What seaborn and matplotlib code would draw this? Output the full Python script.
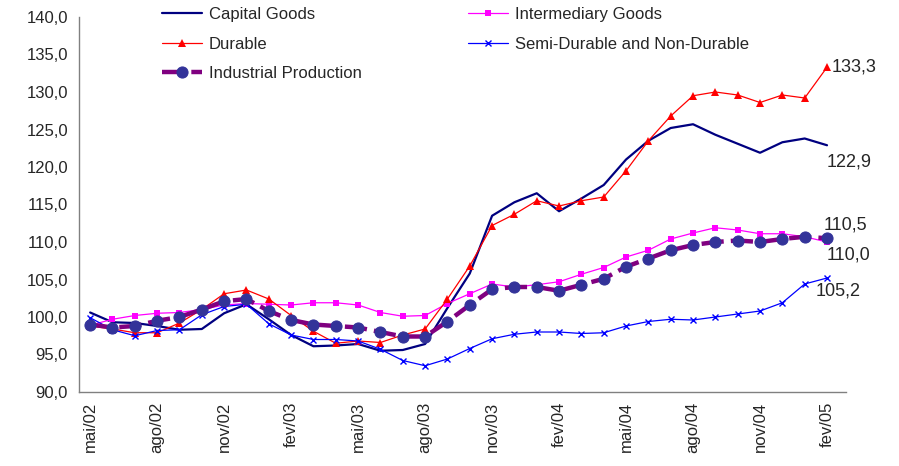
import matplotlib
matplotlib.use("Agg")
import matplotlib.pyplot as plt
import seaborn as sns
import numpy as np
import pandas as pd

months = ["mai/02", "jun/02", "jul/02", "ago/02", "set/02", "out/02", "nov/02", "dez/02",
          "jan/03", "fev/03", "mar/03", "abr/03", "mai/03", "jun/03", "jul/03", "ago/03",
          "set/03", "out/03", "nov/03", "dez/03", "jan/04", "fev/04", "mar/04", "abr/04",
          "mai/04", "jun/04", "jul/04", "ago/04", "set/04", "out/04", "nov/04", "dez/04",
          "jan/05", "fev/05"]

capital = [100.6, 99.3, 99.2, 98.8, 98.3, 98.4, 100.5, 101.7, 99.7, 97.6, 96.1, 96.2,
           96.4, 95.5, 95.6, 96.4, 101.2, 105.8, 113.5, 115.3, 116.5, 114.1, 115.8, 117.6,
           121.0, 123.5, 125.2, 125.7, 124.3, 123.1, 121.9, 123.3, 123.8, 122.9]
intermediary = [98.9, 99.7, 100.2, 100.5, 100.6, 101.0, 101.6, 101.8, 101.7, 101.6, 101.9, 101.9,
                101.6, 100.6, 100.1, 100.2, 101.8, 103.1, 104.4, 104.0, 104.3, 104.7, 105.7, 106.6,
                108.0, 108.9, 110.4, 111.2, 111.9, 111.6, 111.1, 111.1, 110.7, 110.0]
durable = [98.8, 98.4, 97.9, 97.9, 99.2, 101.0, 103.1, 103.6, 102.4, 100.2, 98.1, 96.5,
           96.8, 96.6, 97.6, 98.4, 102.4, 106.8, 112.2, 113.7, 115.5, 114.8, 115.5, 116.0,
           119.5, 123.5, 126.8, 129.5, 130.0, 129.6, 128.6, 129.6, 129.2, 133.3]
semi = [99.9, 98.3, 97.5, 98.2, 98.3, 100.3, 101.4, 101.7, 99.1, 97.6, 97.0, 97.0,
        96.8, 95.7, 94.2, 93.5, 94.4, 95.8, 97.1, 97.7, 98.0, 98.0, 97.8, 97.9,
        98.8, 99.4, 99.7, 99.6, 100.0, 100.4, 100.8, 101.9, 104.4, 105.2]
industrial = [99.0, 98.6, 98.8, 99.5, 100.0, 101.0, 102.1, 102.4, 100.8, 99.6, 99.0, 98.8,
              98.6, 98.0, 97.4, 97.4, 99.4, 101.6, 103.7, 104.0, 104.0, 103.5, 104.3, 105.1,
              106.7, 107.8, 108.9, 109.6, 110.0, 110.2, 110.0, 110.4, 110.7, 110.5]

yticks = [90, 95, 100, 105, 110, 115, 120, 125, 130, 135, 140]

df = pd.DataFrame({"pos": np.arange(len(months)), "month": months,
                   "Capital Goods": capital, "Intermediary Goods": intermediary,
                   "Durable": durable, "Semi-Durable and Non-Durable": semi,
                   "Industrial Production": industrial})

sns.set_style("white")
plt.rcParams["font.family"] = ["Liberation Sans", "DejaVu Sans"]

fig = plt.figure(figsize=(8.99, 4.66), dpi=100)
ax = fig.add_axes([79/899, 1-392/466, (846-79)/899, (392-17)/466])

sns.lineplot(data=df, x="pos", y="Capital Goods", ax=ax, color="#000080", lw=1.6,
             label="Capital Goods", zorder=3)
sns.lineplot(data=df, x="pos", y="Intermediary Goods", ax=ax, color="#FF00FF", lw=0.9,
             marker="s", markersize=5, markeredgewidth=0, label="Intermediary Goods", zorder=3)
sns.lineplot(data=df, x="pos", y="Durable", ax=ax, color="#FF0000", lw=0.9,
             marker="^", markersize=5.5, markeredgewidth=0, label="Durable", zorder=3)
sns.lineplot(data=df, x="pos", y="Semi-Durable and Non-Durable", ax=ax, color="#0000FF", lw=0.9,
             linestyle="-", marker="x", markersize=5, markeredgewidth=1,
             markeredgecolor="#0000FF", markerfacecolor="#0000FF",
             label="Semi-Durable and Non-Durable", zorder=3)
sns.lineplot(data=df, x="pos", y="Industrial Production", ax=ax, color="#800080", lw=3.2,
             marker="o", markersize=8, markerfacecolor="#333399", markeredgecolor="#333399",
             dashes=(5, 1.6), label="Industrial Production", zorder=4)

n = len(months)
ax.set_xlim(-0.5, 33.85)
ax.set_ylim(90, 140)
ax.set_yticks(yticks)
ax.set_yticklabels([f"{v:.1f}".replace(".", ",") for v in yticks], fontsize=12)
ax.set_xticks(np.arange(0, n, 3))
ax.set_xticklabels(months[::3], rotation=90, fontsize=12)
ax.set_xticks(np.arange(-0.5, n, 3), minor=True)
ax.tick_params(axis="x", which="major", length=0, pad=7)
ax.tick_params(axis="x", which="minor", length=6, width=1, color="#808080", direction="out")
ax.tick_params(axis="y", length=4, width=1, color="#808080", direction="out", pad=4)
ax.set_xlabel("")
ax.set_ylabel("")
for s in ["top", "right"]:
    ax.spines[s].set_visible(False)
for s in ["left", "bottom"]:
    ax.spines[s].set_color("#808080")
    ax.spines[s].set_linewidth(1)
ax.grid(False)

last = n - 1
def lab(v):
    return f"{v:.1f}".replace(".", ",")
ax.annotate(lab(durable[-1]), (last, durable[-1]), xytext=(3.6, 0), textcoords="offset points",
            ha="left", va="center", fontsize=13)
ax.annotate(lab(capital[-1]), (last, capital[-1]), xytext=(0, -12), textcoords="offset points",
            ha="left", va="center", fontsize=13)
ax.annotate(lab(industrial[-1]), (last, industrial[-1]), xytext=(-2.6, 9.2), textcoords="offset points",
            ha="left", va="center", fontsize=13)
ax.annotate(lab(intermediary[-1]), (last, intermediary[-1]), xytext=(0, -9.4), textcoords="offset points",
            ha="left", va="center", fontsize=13)
ax.annotate(lab(semi[-1]), (last, semi[-1]), xytext=(-8.3, -9.5), textcoords="offset points",
            ha="left", va="center", fontsize=13)

handles, labels = ax.get_legend_handles_labels()
order = ["Capital Goods", "Durable", "Industrial Production", "Intermediary Goods",
         "Semi-Durable and Non-Durable"]
hmap = dict(zip(labels, handles))
ax.legend([hmap[k] for k in order], order, ncol=2, frameon=False, fontsize=12,
          loc="upper left", bbox_to_anchor=(154/899, 1.003), bbox_transform=fig.transFigure,
          handlelength=2.4, labelspacing=0.88, columnspacing=6.36, handletextpad=0.4,
          borderaxespad=0.1)

fig.savefig("out.png", dpi=100)
